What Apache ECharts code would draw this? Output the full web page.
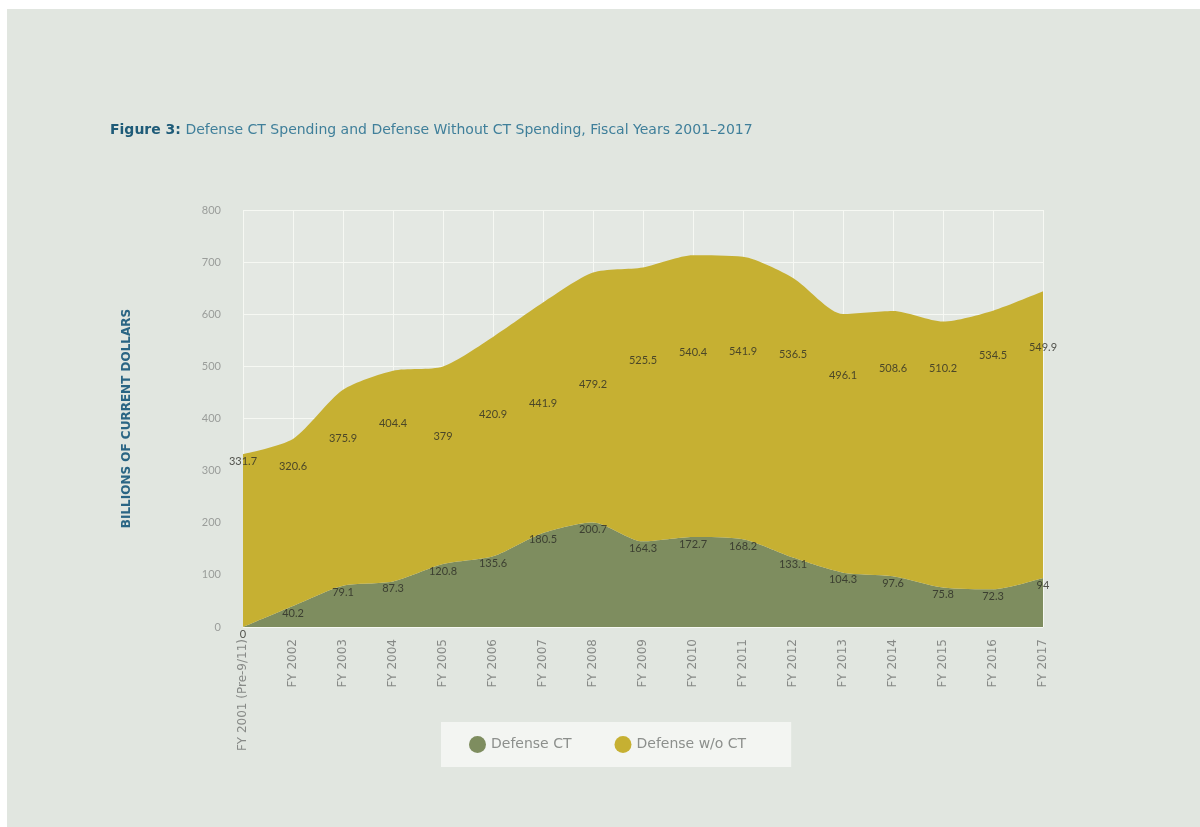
<!DOCTYPE html>
<html>
<head>
<meta charset="utf-8">
<script src="https://cdn.jsdelivr.net/npm/echarts@6/dist/echarts.min.js"></script>
<style>
  html, body { margin: 0; padding: 0; background: #ffffff; }
  #chart { width: 1200px; height: 827px; }
</style>
</head>
<body>
<div id="chart"></div>
<script>
// Fiscal years on the category axis
const years = [
  'FY 2001 (Pre-9/11)', 'FY 2002', 'FY 2003', 'FY 2004', 'FY 2005', 'FY 2006',
  'FY 2007', 'FY 2008', 'FY 2009', 'FY 2010', 'FY 2011', 'FY 2012', 'FY 2013',
  'FY 2014', 'FY 2015', 'FY 2016', 'FY 2017'
];

// Billions of current dollars
const defenseCT = [0, 40.2, 79.1, 87.3, 120.8, 135.6, 180.5, 200.7, 164.3, 172.7, 168.2, 133.1, 104.3, 97.6, 75.8, 72.3, 94];
const defenseWithoutCT = [331.7, 320.6, 375.9, 404.4, 379, 420.9, 441.9, 479.2, 525.5, 540.4, 541.9, 536.5, 496.1, 508.6, 510.2, 534.5, 549.9];

const yTicks = { min: 0, max: 800, interval: 100 };

const GREEN = '#7e8d5f';
const GOLD = '#c6b032';

const chart = echarts.init(document.getElementById('chart'), null, { renderer: 'canvas' });

const valueLabel = {
  show: true,
  position: 'inside',
  offset: [0, 7],
  fontFamily: 'Lato',
  fontSize: 11,
  color: '#2c2c26'
};

chart.setOption({
  backgroundColor: '#e1e6e0',
  animation: false,
  graphic: [
    { type: 'rect', shape: { x: 0, y: 0, width: 1200, height: 9 }, style: { fill: '#ffffff' }, silent: true },
    { type: 'rect', shape: { x: 0, y: 0, width: 7, height: 827 }, style: { fill: '#ffffff' }, silent: true }
  ],
  title: {
    left: 105,
    top: 118,
    text: '{b|Figure 3:} Defense CT Spending and Defense Without CT Spending, Fiscal Years 2001–2017',
    textStyle: {
      fontFamily: 'DejaVu Sans',
      fontSize: 14,
      fontWeight: 'normal',
      color: '#3f7f9a',
      rich: {
        b: { fontFamily: 'DejaVu Sans', fontSize: 14, fontWeight: 'bold', color: '#1e5b78' }
      }
    }
  },
  legend: {
    left: 441,
    top: 722,
    padding: [14, 45, 14, 28],
    backgroundColor: '#f3f5f2',
    itemGap: 43,
    itemWidth: 17,
    itemHeight: 17,
    icon: 'circle',
    textStyle: { fontFamily: 'DejaVu Sans', fontSize: 14, color: '#8c8f8c' },
    data: ['Defense CT', 'Defense w/o CT']
  },
  grid: {
    left: 243,
    right: 157,
    top: 210,
    bottom: 200,
    show: true,
    backgroundColor: '#e4e8e3',
    borderWidth: 0
  },
  xAxis: {
    type: 'category',
    data: years,
    boundaryGap: false,
    axisLine: { show: false },
    axisTick: { show: false },
    axisLabel: {
      rotate: 90,
      interval: 0,
      margin: 12,
      fontFamily: 'DejaVu Sans',
      fontSize: 12,
      color: '#878a87'
    },
    splitLine: { show: true, lineStyle: { color: '#f6f8f3', width: 1 } }
  },
  yAxis: {
    type: 'value',
    min: yTicks.min,
    max: yTicks.max,
    interval: yTicks.interval,
    name: 'BILLIONS OF CURRENT DOLLARS',
    nameLocation: 'middle',
    nameGap: 110,
    nameTextStyle: { fontFamily: 'DejaVu Sans', fontSize: 12, fontWeight: 'bold', color: '#2a6584' },
    axisLine: { show: false },
    axisTick: { show: false },
    axisLabel: { margin: 22, fontFamily: 'Lato', fontSize: 11, color: '#9a9d9a' },
    splitLine: { show: true, lineStyle: { color: '#f6f8f3', width: 1 } }
  },
  series: [
    {
      name: 'Defense CT',
      type: 'line',
      stack: 'total',
      data: defenseCT,
      smooth: 0.25,
      symbol: 'none',
      lineStyle: { width: 0 },
      itemStyle: { color: GREEN },
      areaStyle: { color: GREEN, opacity: 1 }
    },
    {
      name: 'Defense w/o CT',
      type: 'line',
      stack: 'total',
      data: defenseWithoutCT,
      smooth: 0.25,
      symbol: 'none',
      lineStyle: { width: 0 },
      itemStyle: { color: GOLD },
      areaStyle: { color: GOLD, opacity: 1 }
    },
    // value labels, placed at each series' own value
    {
      type: 'scatter',
      data: defenseCT,
      symbolSize: 1,
      itemStyle: { color: 'rgba(0,0,0,0)' },
      label: Object.assign({}, valueLabel),
      silent: true,
      z: 5
    },
    {
      type: 'scatter',
      data: defenseWithoutCT,
      symbolSize: 1,
      itemStyle: { color: 'rgba(0,0,0,0)' },
      label: Object.assign({}, valueLabel),
      silent: true,
      z: 5
    }
  ]
});
</script>
</body>
</html>
